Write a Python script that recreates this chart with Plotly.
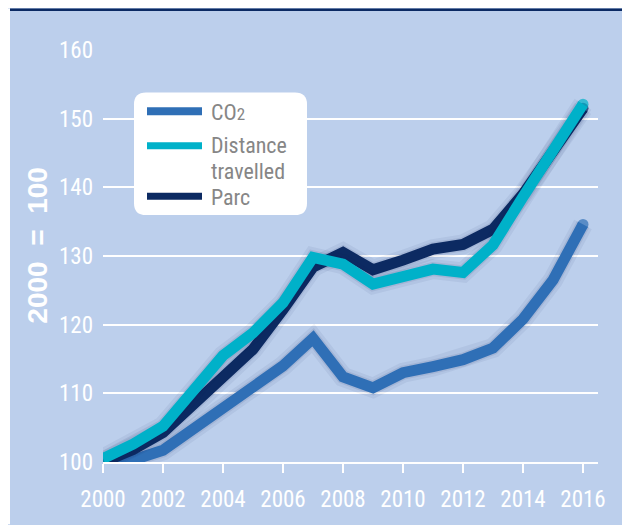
import plotly.graph_objects as go

# index 2000 = 100
years = list(range(2000, 2017))
co2 = [100.0, 100.3, 101.7, 104.8, 107.9, 110.8, 114.0, 118.0, 112.4, 110.8,
       113.0, 113.9, 114.9, 116.6, 120.8, 126.5, 134.6]
distance = [100.5, 102.6, 105.2, 110.3, 115.5, 118.8, 123.2, 129.8, 128.8, 125.9,
            126.9, 128.1, 127.6, 131.6, 138.6, 145.3, 152.1]
parc = [100.0, 101.8, 104.3, 108.2, 112.6, 116.4, 122.2, 128.4, 130.5, 128.0,
        129.4, 131.0, 131.7, 133.9, 139.0, 145.0, 151.5]

colors = ["#2f6fb6", "#00b1c9", "#0c2a62"]

BG = "#bccfec"
NARROW = "Liberation Sans Narrow, Arial Narrow, Roboto Condensed, sans-serif"

# page has an 8px body margin, so the figure is a bit smaller than the window
W, H = 622, 517
L, R, T, B = 95, 32, 42, 58
PW, PH = W - L - R, H - T - B


# helpers take positions in page pixels
def px_x(p):
    return (p - 103) / PW


def px_y(p):
    return (467 - p) / PH


def round_rect(x0, y0, x1, y1, r):
    ax, bx = px_x(x0), px_x(x1)
    ay, by = px_y(y0), px_y(y1)
    rx, ry = r / PW, r / PH
    return (f"M{ax+rx},{ay} L{bx-rx},{ay} Q{bx},{ay} {bx},{ay-ry} "
            f"L{bx},{by+ry} Q{bx},{by} {bx-rx},{by} L{ax+rx},{by} "
            f"Q{ax},{by} {ax},{by+ry} L{ax},{ay-ry} Q{ax},{ay} {ax+rx},{ay} Z")


fig = go.Figure()

n = len(years)
cap = [11] + [0] * (n - 2) + [11]
for ys, c in zip([co2, parc, distance], [colors[0], colors[2], colors[1]]):
    # soft shadow under each line
    fig.add_trace(go.Scatter(x=years, y=ys, mode="lines", hoverinfo="skip",
                             line=dict(color="rgba(20,35,90,0.06)", width=20)))
    fig.add_trace(go.Scatter(x=years, y=ys, mode="lines", hoverinfo="skip",
                             line=dict(color="rgba(20,35,90,0.09)", width=14)))
    fig.add_trace(go.Scatter(x=years, y=ys, mode="lines+markers",
                             line=dict(color=c, width=11),
                             marker=dict(color=c, size=cap, line=dict(width=0))))

shapes = [
    dict(type="rect", xref="paper", yref="paper", x0=px_x(8), x1=px_x(10),
         y0=px_y(530), y1=px_y(8), fillcolor="white", line_width=0, layer="below"),
    dict(type="rect", xref="paper", yref="paper", x0=px_x(10), x1=px_x(640),
         y0=px_y(10.5), y1=px_y(8), fillcolor="#0b2a63", line_width=0),
    # legend box
    dict(type="path", xref="paper", yref="paper", path=round_rect(134, 93, 307, 217, 12),
         fillcolor="white", line_width=0, layer="above"),
]

annotations = [
    dict(text="2000&nbsp;&nbsp;=&nbsp;&nbsp;100", textangle=-90, x=px_x(38), y=px_y(248),
         xref="paper", yref="paper", xanchor="center", yanchor="middle",
         showarrow=False, font=dict(color="white", size=28,
                                    family="Liberation Sans, Arial, sans-serif",
                                    weight="bold")),
]

# hand-built legend
leg_lines = [(colors[0], 112, 8), (colors[1], 147, 7), (colors[2], 198, 7)]
for c, ly, lw in leg_lines:
    shapes.append(dict(type="line", xref="paper", yref="paper",
                       x0=px_x(147), x1=px_x(202), y0=px_y(ly), y1=px_y(ly),
                       line=dict(color=c, width=lw), layer="above"))
leg_text = [("CO<span style='font-size:17px'>2</span>", 113), ("Distance", 147),
            ("travelled", 173), ("Parc", 199)]
for t, ty in leg_text:
    annotations.append(dict(text=t, x=px_x(210), y=px_y(ty), xref="paper", yref="paper",
                            xanchor="left", yanchor="middle", align="left",
                            showarrow=False, borderpad=0,
                            font=dict(color="#868686", size=22, family=NARROW)))

fig.update_layout(
    width=W, height=H,
    margin=dict(l=L, r=R, t=T, b=B),
    paper_bgcolor=BG, plot_bgcolor=BG,
    showlegend=False,
    shapes=shapes, annotations=annotations,
    font=dict(family=NARROW, color="white", size=23),
)
fig.update_xaxes(range=[2000, 2016.5], tickvals=list(range(2000, 2017, 2)),
                 showgrid=False, zeroline=False,
                 showline=True, linecolor="white", linewidth=1.5,
                 ticks="outside", ticklen=9, tickwidth=1.5, tickcolor="white",
                 ticklabelstandoff=7,
                 tickfont=dict(color="white", size=23, family=NARROW))
fig.update_yaxes(range=[100, 160], tickvals=list(range(100, 161, 10)),
                 showgrid=True, gridcolor="white", gridwidth=1.5,
                 zeroline=False, showline=False, ticks="",
                 ticklabelstandoff=9,
                 tickfont=dict(color="white", size=23, family=NARROW))

fig.write_html("out.html")
